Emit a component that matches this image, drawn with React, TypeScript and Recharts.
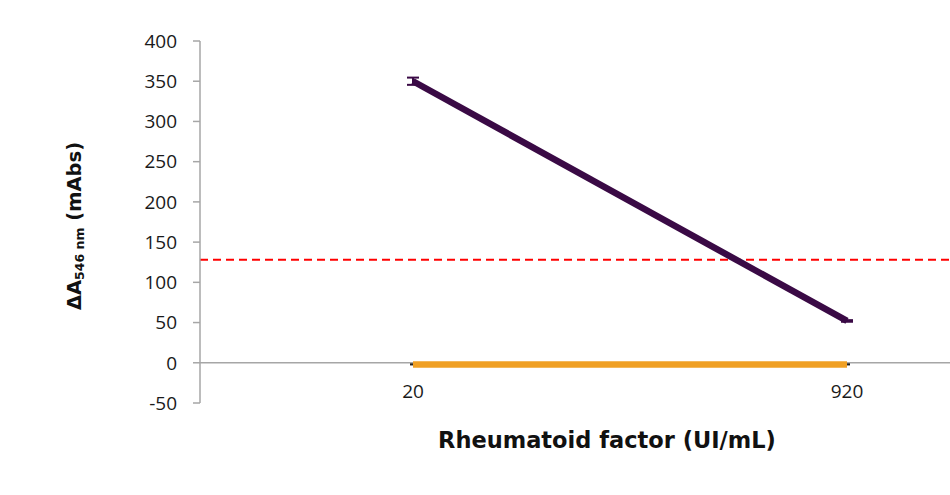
import React from "react";
import {
  ComposedChart,
  Line,
  XAxis,
  YAxis,
  ReferenceLine,
  ErrorBar,
} from "recharts";

// RF concentration (UI/mL)
const concentrations = [20, 920];
// ΔA546 nm (mAbs) for the two series
const rfPositive = [350, 52];
const rfPositiveErr = [4.5, 1];
const rfNegative = [-2, -2];
const rfNegativeErr = [0.4, 0.4];
const cutoffValue = 128;
const yTicks = [-50, 0, 50, 100, 150, 200, 250, 300, 350, 400];
const xTicks = [20, 920];

const data = concentrations.map((c, i) => ({
  x: c,
  pos: rfPositive[i],
  posErr: rfPositiveErr[i],
  neg: rfNegative[i],
  negErr: rfNegativeErr[i],
}));

const FONT = "'Open Sans', 'DejaVu Sans', sans-serif";
const TITLE_FONT = "'DejaVu Sans', 'Open Sans', sans-serif";

const XTick = (props: any) => {
  const { x, y, payload } = props;
  return (
    <text
      x={x}
      y={y - 5}
      textAnchor="middle"
      fontFamily={FONT}
      fontSize={19}
      fill="#1a1a1a"
    >
      {payload.value}
    </text>
  );
};

const YTitle = () => (
  <text
    x={74}
    y={226}
    transform="rotate(-90, 74, 226)"
    textAnchor="middle"
    dominantBaseline="central"
    fontFamily={TITLE_FONT}
    fontWeight="bold"
    fontSize={19.5}
    fill="#111"
  >
    ΔA
    <tspan fontSize={12.5} dy={5}>
      546 nm
    </tspan>
    <tspan dy={-5}> (mAbs)</tspan>
  </text>
);

const XTitle = () => (
  <text
    x={607}
    y={440}
    textAnchor="middle"
    dominantBaseline="central"
    fontFamily={TITLE_FONT}
    fontWeight="bold"
    fontSize={22.5}
    fill="#111"
  >
    Rheumatoid factor (UI/mL)
  </text>
);

export default function App() {
  return (
    <div style={{ position: "absolute", left: 0, top: 0, width: 950, height: 495 }}>
      <ComposedChart
        width={950}
        height={495}
        data={data}
        margin={{ top: 41, right: 0, bottom: 32, left: 0 }}
      >
        <XAxis
          type="number"
          dataKey="x"
          domain={[-421.7, 1133.6]}
          ticks={xTicks}
          allowDataOverflow
          axisLine={false}
          tickLine={false}
          tickSize={0}
          tickMargin={0}
          height={60}
          tick={<XTick />}
          label={<XTitle />}
        />
        <YAxis
          type="number"
          domain={[-50, 400]}
          ticks={yTicks}
          interval={0}
          width={200}
          axisLine={{ stroke: "#a6a6a6", strokeWidth: 1.5 }}
          tickLine={{ stroke: "#a6a6a6", strokeWidth: 1.5 }}
          tickSize={7}
          tickMargin={16}
          tick={{ fontFamily: FONT, fontSize: 19, fill: "#1a1a1a" }}
          label={<YTitle />}
        />
        <ReferenceLine y={0} stroke="#a6a6a6" strokeWidth={1.5} />
        <ReferenceLine
          y={cutoffValue}
          stroke="#ff0000"
          strokeWidth={2}
          strokeDasharray="8 5"
        />
        <Line
          dataKey="neg"
          stroke="#f0a024"
          strokeWidth={6.5}
          dot={false}
          isAnimationActive={false}
        >
          <ErrorBar
            dataKey="negErr"
            direction="y"
            width={3}
            stroke="#222"
            strokeWidth={1.5}
          />
        </Line>
        <Line
          dataKey="pos"
          stroke="#3a0a45"
          strokeWidth={6.5}
          dot={false}
          isAnimationActive={false}
        >
          <ErrorBar
            dataKey="posErr"
            direction="y"
            width={6}
            stroke="#3a0a45"
            strokeWidth={2}
          />
        </Line>
      </ComposedChart>
    </div>
  );
}
